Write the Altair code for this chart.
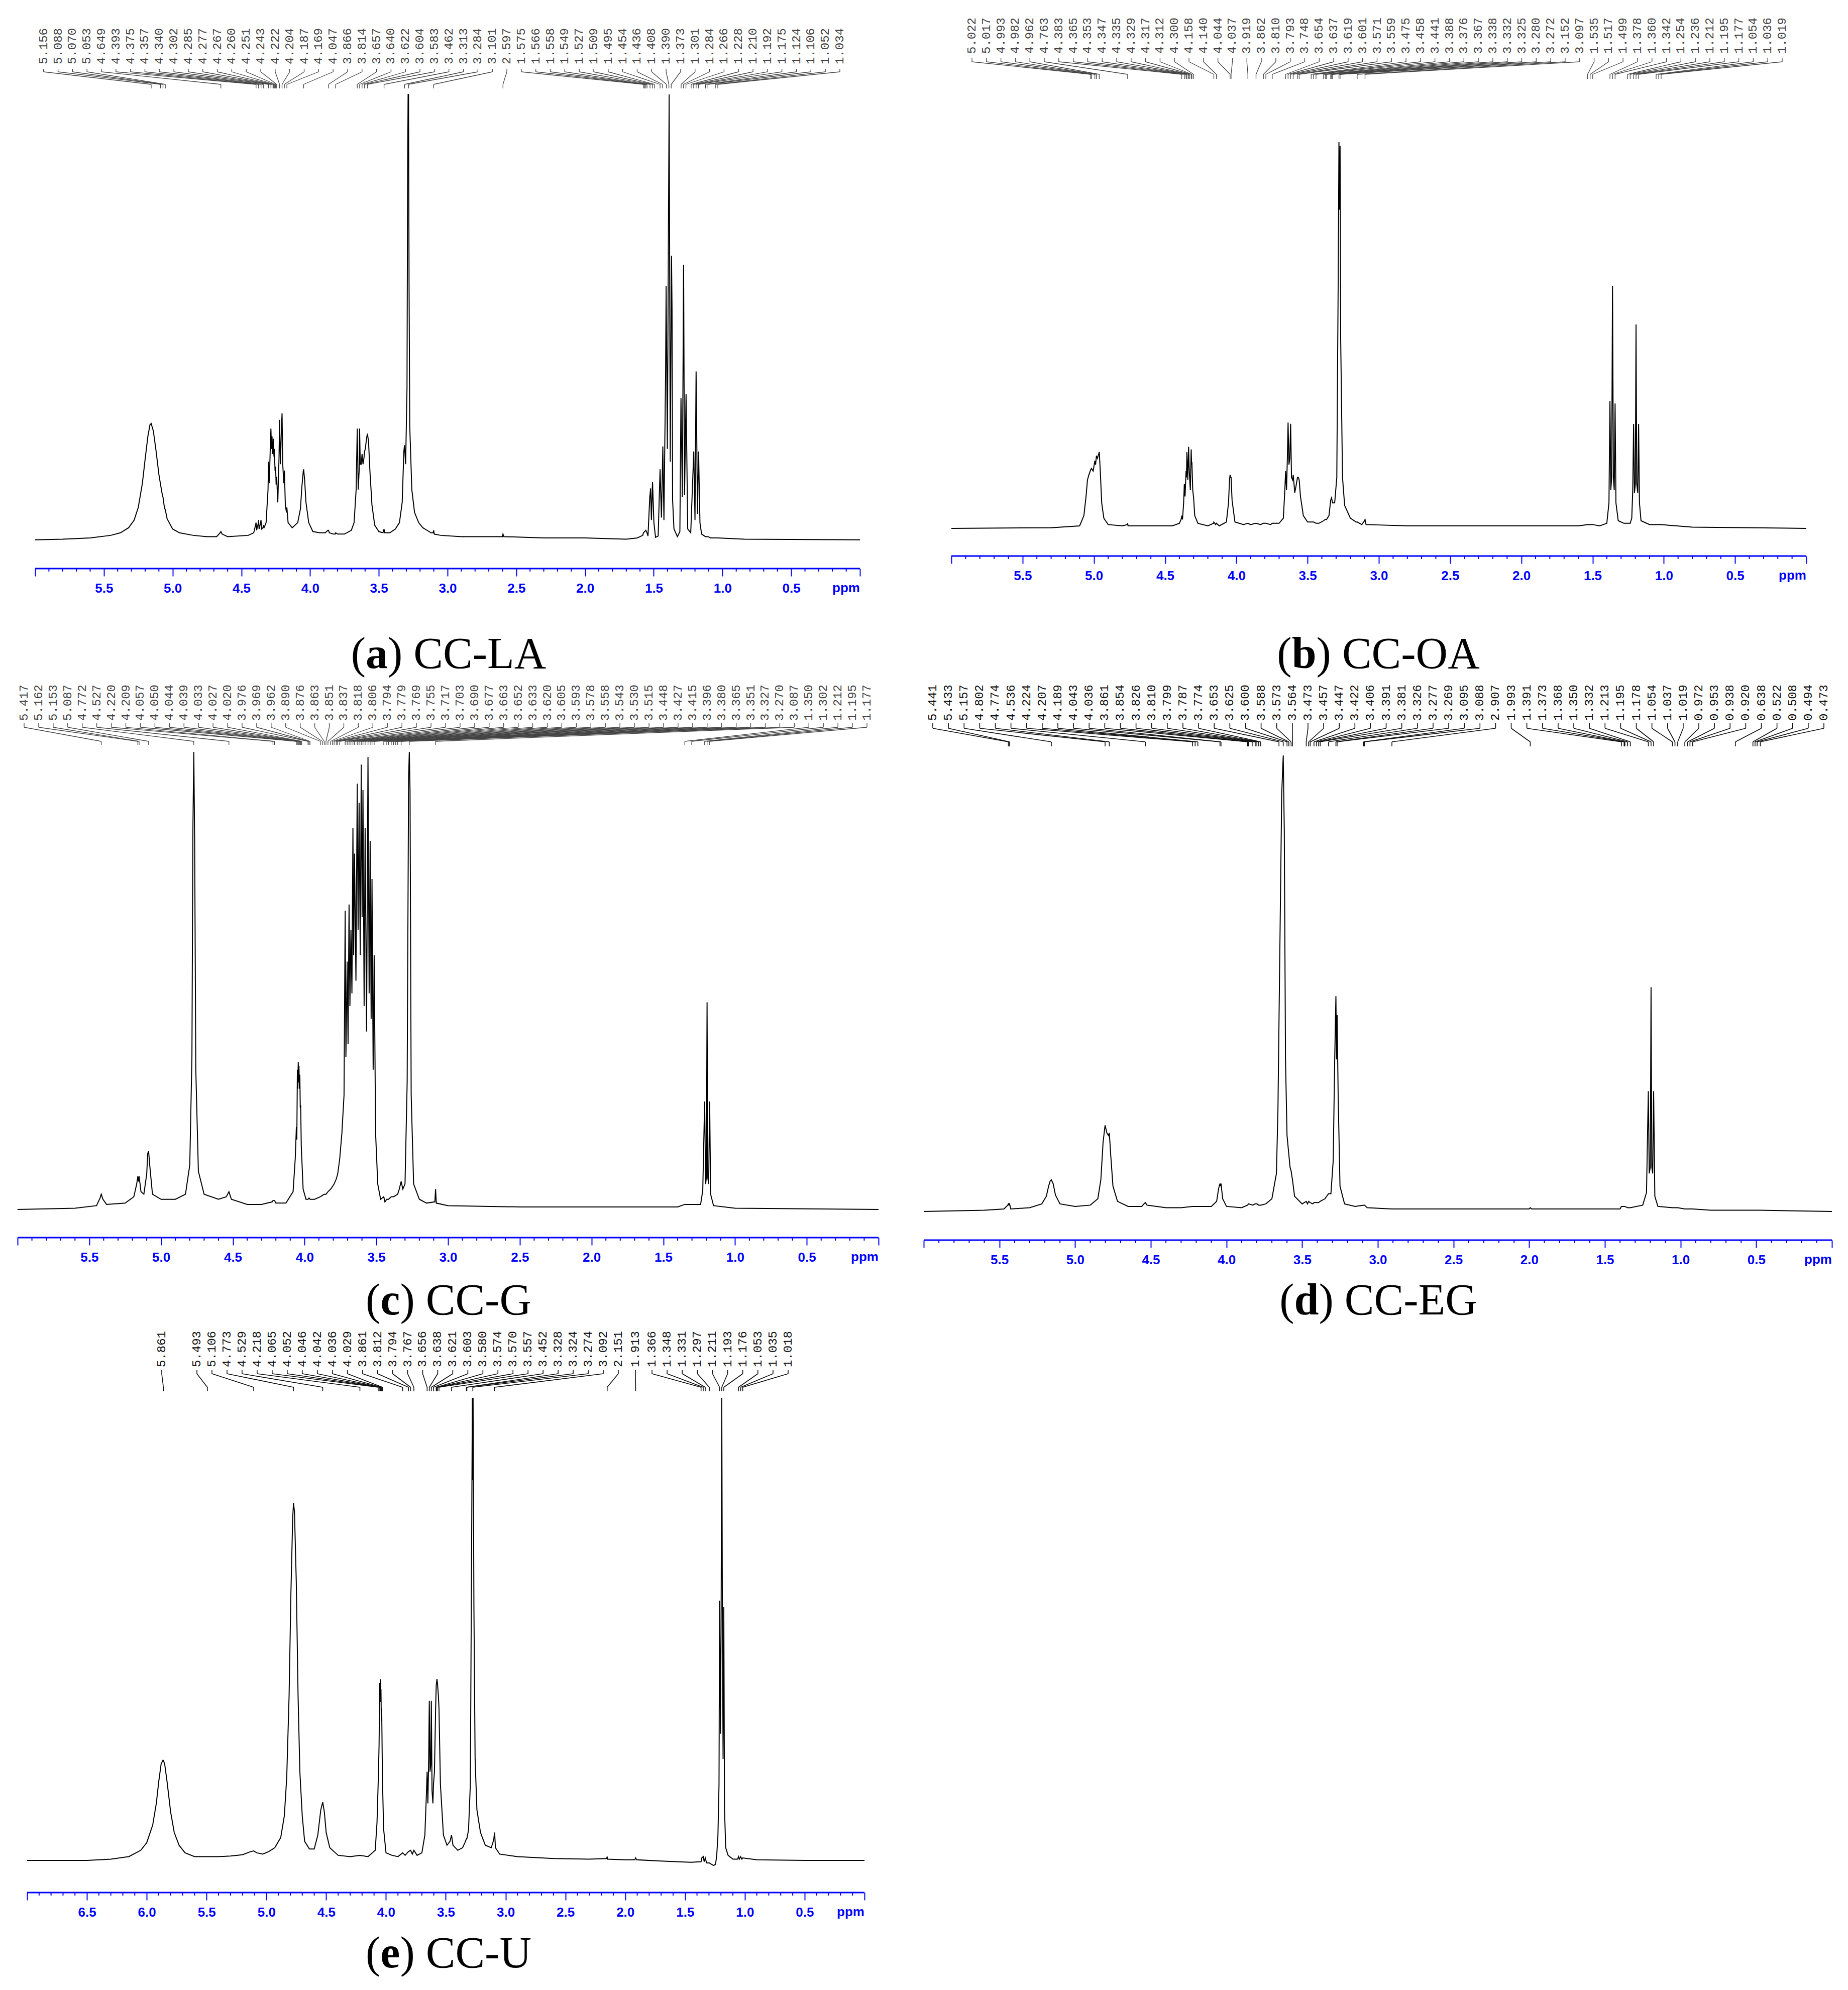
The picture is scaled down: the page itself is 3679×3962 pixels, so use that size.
import altair as alt
import pandas as pd

# ---------------------------------------------------------------- data
# spectrum traces: (chemical shift in ppm, intensity in arbitrary units)
A_TRACE = [(6.00,0.5),(5.80,1),(5.60,2),(5.45,4),(5.38,6),(5.32,10),(5.28,16),(5.25,26),(5.22,45),(5.20,64),(5.18,82),(5.165,91),(5.156,92),(5.14,86),(5.12,70),(5.10,52),(5.088,44),(5.075,36),(5.070,34),(5.060,26),(5.053,24),(5.04,17),(5.00,9),(4.95,6),(4.85,4),(4.75,3),(4.68,3),(4.655,6),(4.649,7),(4.64,5),(4.60,3),(4.45,4),(4.41,6),(4.397,12),(4.393,14),(4.389,8),(4.378,13),(4.375,16),(4.371,9),(4.360,14),(4.357,16),(4.353,9),(4.343,10),(4.340,12),(4.335,10),(4.32,14),(4.306,40),(4.302,62),(4.297,45),(4.289,75),(4.285,88),(4.281,72),(4.277,82),(4.272,68),(4.267,80),(4.263,66),(4.260,72),(4.255,55),(4.251,58),(4.247,44),(4.243,50),(4.235,30),(4.226,65),(4.222,95),(4.216,60),(4.208,90),(4.204,100),(4.199,60),(4.191,45),(4.187,55),(4.180,28),(4.172,22),(4.169,26),(4.160,14),(4.13,10),(4.09,14),(4.07,25),(4.06,42),(4.050,54),(4.047,56),(4.040,48),(4.03,30),(4.01,14),(3.98,7),(3.93,6),(3.89,6),(3.870,8),(3.866,8),(3.860,6),(3.83,5),(3.817,5),(3.814,6),(3.80,5),(3.75,5),(3.70,8),(3.68,14),(3.665,40),(3.657,88),(3.650,40),(3.643,55),(3.640,88),(3.635,60),(3.628,60),(3.622,68),(3.615,60),(3.608,65),(3.604,70),(3.598,72),(3.590,80),(3.583,84),(3.575,78),(3.565,55),(3.55,28),(3.53,12),(3.50,7),(3.47,6),(3.465,8),(3.462,9),(3.458,6),(3.42,6),(3.38,9),(3.35,14),(3.33,30),(3.318,70),(3.313,75),(3.305,60),(3.295,120),(3.290,300),(3.287,351),(3.284,351),(3.280,200),(3.275,90),(3.26,40),(3.24,22),(3.21,14),(3.18,10),(3.15,8),(3.12,6),(3.105,6),(3.101,8),(3.097,5),(3.05,4),(2.90,3),(2.70,3),(2.60,3),(2.597,5),(2.59,3),(2.30,2),(2.00,2),(1.70,1),(1.62,2),(1.580,4),(1.575,6),(1.566,7),(1.558,8),(1.549,6),(1.542,3.5),(1.529,34),(1.523,41),(1.517,16),(1.509,46),(1.499,14),(1.487,2.5),(1.468,3.5),(1.454,56),(1.444,18),(1.434,74),(1.426,16),(1.414,130),(1.410,200),(1.401,72),(1.393,248),(1.388,351),(1.383,168),(1.380,62),(1.371,224),(1.367,182),(1.363,32),(1.353,9),(1.328,3),(1.310,7),(1.302,112),(1.292,34),(1.283,217),(1.276,36),(1.265,115),(1.253,9),(1.231,6),(1.209,70),(1.200,16),(1.192,133),(1.182,21),(1.174,70),(1.164,14),(1.152,5),(1.124,3),(1.106,3),(1.085,2),(1.052,2),(1.034,2),(0.84,1),(0.00,0.5)]

B_TRACE = [(6.00,0),(5.30,0.5),(5.10,2),(5.07,10),(5.055,25),(5.045,38),(5.035,42),(5.022,46),(5.017,47),(5.005,45),(4.993,53),(4.988,50),(4.982,57),(4.975,55),(4.962,60),(4.955,45),(4.945,20),(4.93,8),(4.90,3),(4.80,2),(4.765,3),(4.763,4),(4.76,2),(4.45,2),(4.40,4),(4.388,7),(4.383,10),(4.378,7),(4.370,20),(4.365,35),(4.360,25),(4.353,45),(4.350,40),(4.347,60),(4.341,38),(4.335,64),(4.332,50),(4.329,42),(4.323,30),(4.317,62),(4.314,50),(4.312,52),(4.306,30),(4.300,24),(4.292,10),(4.27,4),(4.20,2),(4.160,4),(4.158,5),(4.145,3),(4.140,4),(4.12,2),(4.07,5),(4.055,20),(4.048,38),(4.044,42),(4.040,40),(4.037,40),(4.030,22),(4.01,5),(3.95,3),(3.919,4),(3.90,3),(3.862,4),(3.83,3),(3.810,4),(3.793,4),(3.76,3),(3.748,4),(3.70,4),(3.67,8),(3.660,30),(3.654,45),(3.648,30),(3.642,55),(3.637,83),(3.631,50),(3.625,55),(3.619,82),(3.613,40),(3.605,38),(3.601,42),(3.590,28),(3.580,34),(3.571,40),(3.565,40),(3.559,38),(3.55,25),(3.53,10),(3.50,5),(3.475,5),(3.458,5),(3.441,4),(3.42,4),(3.388,6),(3.376,7),(3.367,7),(3.35,10),(3.338,22),(3.332,24),(3.325,20),(3.31,20),(3.295,40),(3.285,200),(3.280,303),(3.276,250),(3.272,300),(3.268,150),(3.255,40),(3.24,18),(3.20,8),(3.16,5),(3.152,5),(3.12,3),(3.100,6),(3.097,7),(3.09,3),(2.80,2),(2.00,2),(1.60,2),(1.535,3),(1.517,3),(1.499,3),(1.45,2),(1.40,4),(1.385,20),(1.378,100),(1.372,30),(1.366,40),(1.360,190),(1.354,40),(1.348,30),(1.342,98),(1.336,20),(1.32,6),(1.28,4),(1.254,4),(1.236,4),(1.225,8),(1.218,30),(1.212,82),(1.206,28),(1.200,35),(1.195,160),(1.190,35),(1.183,28),(1.177,82),(1.171,20),(1.16,6),(1.10,3),(1.054,3),(1.036,3),(1.019,3),(0.80,1),(0.00,0)]

C_TRACE = [(6.00,0),(5.60,1),(5.45,3),(5.425,9),(5.417,12),(5.405,8),(5.38,4),(5.25,5),(5.19,10),(5.170,20),(5.162,26),(5.157,22),(5.153,26),(5.140,14),(5.12,12),(5.10,28),(5.093,44),(5.087,46),(5.080,36),(5.06,12),(5.00,8),(4.90,8),(4.83,12),(4.80,35),(4.785,120),(4.778,300),(4.772,360),(4.766,290),(4.758,110),(4.74,30),(4.70,12),(4.60,8),(4.545,10),(4.527,14),(4.51,8),(4.40,4),(4.30,4),(4.225,6),(4.220,7),(4.209,7),(4.20,5),(4.13,5),(4.08,14),(4.065,40),(4.057,65),(4.054,55),(4.050,110),(4.047,95),(4.044,116),(4.041,100),(4.039,113),(4.036,95),(4.033,106),(4.030,80),(4.027,82),(4.023,50),(4.020,42),(4.010,16),(3.99,8),(3.976,8),(3.969,9),(3.962,8),(3.93,8),(3.890,10),(3.876,11),(3.863,12),(3.851,12),(3.837,14),(3.818,16),(3.806,18),(3.794,20),(3.779,24),(3.769,28),(3.755,40),(3.74,60),(3.725,90),(3.717,235),(3.712,120),(3.703,195),(3.697,130),(3.690,240),(3.684,160),(3.677,220),(3.670,170),(3.663,300),(3.658,200),(3.652,280),(3.642,180),(3.633,335),(3.627,220),(3.620,320),(3.612,200),(3.605,350),(3.599,230),(3.593,330),(3.585,160),(3.578,300),(3.568,140),(3.558,356),(3.550,170),(3.543,290),(3.536,150),(3.530,260),(3.522,110),(3.515,200),(3.505,60),(3.49,20),(3.47,8),(3.448,10),(3.44,6),(3.427,8),(3.415,8),(3.396,10),(3.380,10),(3.365,11),(3.351,12),(3.340,16),(3.327,22),(3.315,16),(3.30,20),(3.285,100),(3.275,340),(3.270,360),(3.265,330),(3.257,90),(3.24,20),(3.20,8),(3.15,5),(3.092,6),(3.087,16),(3.082,5),(3.00,3),(2.50,2),(2.00,2),(1.40,2),(1.350,4),(1.302,4),(1.24,4),(1.225,15),(1.212,85),(1.205,20),(1.200,25),(1.195,163),(1.190,25),(1.184,20),(1.177,85),(1.170,12),(1.15,3),(1.00,1),(0.00,0)]

D_TRACE = [(6.00,0),(5.60,1),(5.47,2),(5.445,5),(5.441,6),(5.437,5),(5.433,6),(5.425,2),(5.30,3),(5.22,6),(5.19,12),(5.175,20),(5.165,24),(5.157,25),(5.145,22),(5.13,13),(5.10,6),(5.00,4),(4.90,5),(4.85,10),(4.83,25),(4.815,55),(4.802,68),(4.790,62),(4.780,60),(4.774,62),(4.765,45),(4.75,20),(4.72,8),(4.65,4),(4.56,4),(4.545,6),(4.536,7),(4.525,5),(4.40,3),(4.30,3),(4.224,4),(4.207,4),(4.189,4),(4.10,4),(4.065,8),(4.052,18),(4.043,22),(4.039,20),(4.036,22),(4.025,10),(4.00,4),(3.90,3),(3.861,5),(3.854,6),(3.826,5),(3.810,6),(3.799,6),(3.787,5),(3.774,5),(3.74,6),(3.70,10),(3.67,30),(3.660,80),(3.653,150),(3.645,230),(3.635,330),(3.625,360),(3.618,300),(3.610,120),(3.600,60),(3.588,45),(3.580,35),(3.573,32),(3.564,25),(3.55,12),(3.50,6),(3.473,8),(3.465,6),(3.457,8),(3.447,7),(3.43,6),(3.422,7),(3.406,7),(3.391,7),(3.381,8),(3.35,10),(3.326,14),(3.31,14),(3.295,40),(3.285,120),(3.277,170),(3.273,120),(3.269,155),(3.262,90),(3.25,20),(3.22,6),(3.15,4),(3.095,5),(3.088,5),(3.07,3),(2.907,2),(2.50,2),(2.00,2),(1.993,3),(1.985,2),(1.70,2),(1.40,2),(1.391,4),(1.373,4),(1.368,4),(1.350,3),(1.332,3),(1.25,5),(1.225,15),(1.213,95),(1.207,30),(1.200,35),(1.195,177),(1.190,35),(1.184,30),(1.178,95),(1.170,12),(1.15,4),(1.054,3),(1.037,3),(1.019,3),(0.972,2),(0.953,2),(0.938,2),(0.920,2),(0.80,1),(0.638,1),(0.522,1),(0.473,1),(0.00,0)]

E_TRACE = [(7.00,0),(6.50,0),(6.30,1),(6.15,3),(6.05,8),(6.00,14),(5.95,28),(5.92,45),(5.90,62),(5.88,76),(5.865,79),(5.861,79),(5.85,76),(5.83,62),(5.80,38),(5.77,22),(5.73,12),(5.68,6),(5.60,3),(5.50,3),(5.40,3),(5.30,3.5),(5.20,4.5),(5.13,7),(5.106,7.5),(5.08,6),(5.03,5),(4.98,7),(4.93,10),(4.88,18),(4.85,35),(4.83,65),(4.81,130),(4.795,210),(4.78,270),(4.773,282),(4.765,275),(4.75,220),(4.735,130),(4.72,70),(4.70,35),(4.68,15),(4.64,9),(4.60,9),(4.57,20),(4.545,40),(4.529,46),(4.515,38),(4.50,22),(4.47,10),(4.40,4),(4.30,3),(4.218,4),(4.15,3),(4.09,8),(4.075,30),(4.065,62),(4.058,90),(4.052,140),(4.049,125),(4.046,143),(4.044,128),(4.042,135),(4.039,110),(4.036,120),(4.032,85),(4.029,62),(4.02,25),(4.00,6),(3.95,4),(3.90,3),(3.861,6),(3.840,4),(3.812,7),(3.794,8),(3.780,5),(3.767,8),(3.74,4),(3.70,6),(3.675,20),(3.663,50),(3.656,70),(3.650,45),(3.643,80),(3.638,126),(3.632,70),(3.626,75),(3.621,126),(3.615,55),(3.608,45),(3.603,60),(3.595,70),(3.585,120),(3.580,138),(3.574,143),(3.570,140),(3.562,130),(3.557,120),(3.545,60),(3.52,20),(3.49,12),(3.465,15),(3.452,20),(3.440,12),(3.40,8),(3.36,10),(3.34,14),(3.328,17),(3.324,17),(3.31,24),(3.295,60),(3.284,250),(3.278,365),(3.276,300),(3.272,365),(3.265,200),(3.255,80),(3.24,40),(3.21,22),(3.17,12),(3.12,10),(3.100,16),(3.092,22),(3.085,10),(3.05,5),(2.90,3),(2.60,1.5),(2.30,1),(2.155,1.5),(2.151,3),(2.147,1),(2.00,0.5),(1.92,0.5),(1.913,2),(1.905,0.5),(1.70,-0.5),(1.45,-1.5),(1.366,-1),(1.360,2),(1.348,3),(1.340,-1),(1.331,2),(1.320,-2),(1.297,-2),(1.280,-3),(1.26,-4),(1.245,-3),(1.235,4),(1.225,20),(1.216,60),(1.211,205),(1.204,100),(1.198,200),(1.193,365),(1.188,200),(1.182,80),(1.176,200),(1.170,40),(1.16,10),(1.14,4),(1.10,1),(1.060,1),(1.053,3),(1.046,1),(1.035,3),(1.025,1),(1.018,2),(0.90,0.5),(0.50,0),(0.00,0)]

# peak-pick labels
A_LABELS = ["5.156","5.088","5.070","5.053","4.649","4.393","4.375","4.357","4.340","4.302","4.285","4.277","4.267","4.260","4.251","4.243","4.222","4.204","4.187","4.169","4.047","3.866","3.814","3.657","3.640","3.622","3.604","3.583","3.462","3.313","3.284","3.101","2.597","1.575","1.566","1.558","1.549","1.527","1.509","1.495","1.454","1.436","1.408","1.390","1.373","1.301","1.284","1.266","1.228","1.210","1.192","1.175","1.124","1.106","1.052","1.034"]
B_LABELS = ["5.022","5.017","4.993","4.982","4.962","4.763","4.383","4.365","4.353","4.347","4.335","4.329","4.317","4.312","4.300","4.158","4.140","4.044","4.037","3.919","3.862","3.810","3.793","3.748","3.654","3.637","3.619","3.601","3.571","3.559","3.475","3.458","3.441","3.388","3.376","3.367","3.338","3.332","3.325","3.280","3.272","3.152","3.097","1.535","1.517","1.499","1.378","1.360","1.342","1.254","1.236","1.212","1.195","1.177","1.054","1.036","1.019"]
C_LABELS = ["5.417","5.162","5.153","5.087","4.772","4.527","4.220","4.209","4.057","4.050","4.044","4.039","4.033","4.027","4.020","3.976","3.969","3.962","3.890","3.876","3.863","3.851","3.837","3.818","3.806","3.794","3.779","3.769","3.755","3.717","3.703","3.690","3.677","3.663","3.652","3.633","3.620","3.605","3.593","3.578","3.558","3.543","3.530","3.515","3.448","3.427","3.415","3.396","3.380","3.365","3.351","3.327","3.270","3.087","1.350","1.302","1.212","1.195","1.177"]
D_LABELS = ["5.441","5.433","5.157","4.802","4.774","4.536","4.224","4.207","4.189","4.043","4.036","3.861","3.854","3.826","3.810","3.799","3.787","3.774","3.653","3.625","3.600","3.588","3.573","3.564","3.473","3.457","3.447","3.422","3.406","3.391","3.381","3.326","3.277","3.269","3.095","3.088","2.907","1.993","1.391","1.373","1.368","1.350","1.332","1.213","1.195","1.178","1.054","1.037","1.019","0.972","0.953","0.938","0.920","0.638","0.522","0.508","0.494","0.473"]
E_LABELS_1 = ["5.861"]
E_LABELS_2 = ["5.493","5.106","4.773","4.529","4.218","4.065","4.052","4.046","4.042","4.036","4.029","3.861","3.812","3.794","3.767","3.656","3.638","3.621","3.603","3.580","3.574","3.570","3.557","3.452","3.328","3.324","3.274","3.092","2.151"]
E_LABELS_3 = ["1.913"]
E_LABELS_4 = ["1.366","1.348","1.331","1.297","1.211","1.193","1.176","1.053","1.035","1.018"]

CAPTIONS = [("a", "CC-LA"), ("b", "CC-OA"), ("c", "CC-G"), ("d", "CC-EG"), ("e", "CC-U")]

# ---------------------------------------------------------------- layout (page pixels)
BLUE = "#0000ff"
COL_L = [8, 1800]
COL_W = [1760, 1860]
ROW_T = [8, 1282, 2619]
GEOM = {
    "a": dict(col=0, PT=ROW_T[0], H=1124, P=6, Xhi=70, X0=1712, base=1076, top=188, tb=128, c=(137, 143, 168, 176), cx=893, cb=1330),
    "b": dict(col=1, PT=ROW_T[0], H=1099, P=6, Xhi=1894, X0=3596, base=1052, top=283, tb=107, c=(115, 123, 148, 157), cx=2744, cb=1330),
    "c": dict(col=0, PT=ROW_T[1], H=1182, P=6, Xhi=35, X0=1749, base=2408, top=1497, tb=1435, c=(1440, 1448, 1476, 1483), cx=893, cb=2617),
    "d": dict(col=1, PT=ROW_T[1], H=1187, P=6, Xhi=1839, X0=3647, base=2412, top=1504, tb=1435, c=(1440, 1450, 1477, 1486), cx=2744, cb=2617),
    "e": dict(col=0, PT=ROW_T[2], H=1149, P=7, Xhi=54, X0=1721, base=3704, top=2783, tb=2722, c=(2728, 2735, 2762, 2770), cx=893, cb=3917),
}
LABEL_GROUPS = {
    "a": [(A_LABELS, 86.7, 1672)],
    "b": [(B_LABELS, 1935, 3548)],
    "c": [(C_LABELS, 48, 1726)],
    "d": [(D_LABELS, 1857, 3631)],
    "e": [(E_LABELS_1, 322, 322), (E_LABELS_2, 392, 1231), (E_LABELS_3, 1265, 1265), (E_LABELS_4, 1298, 1569)],
}
TRACES = {"a": A_TRACE, "b": B_TRACE, "c": C_TRACE, "d": D_TRACE, "e": E_TRACE}
LAB_COLOR = {"a": "#444444", "b": "#444444", "c": "#444444", "d": "#111111", "e": "#111111"}

# Times-compatible advance widths (em) for caption placement
EM = {"(": 0.333, ")": 0.333, " ": 0.25, "C": 0.667, "-": 0.333, "L": 0.611, "A": 0.722,
      "O": 0.722, "G": 0.722, "E": 0.611, "U": 0.722}
EM_BOLD = {"a": 0.5, "b": 0.556, "c": 0.444, "d": 0.556, "e": 0.444}
CAP_FS = 88
TICK_FS = 26


def make_panel(key, letter, name):
    g = GEOM[key]
    PL = COL_L[g["col"]]
    W = COL_W[g["col"]]
    PT, H, P = g["PT"], g["H"], g["P"]
    k = (g["X0"] - g["Xhi"]) / P
    L = P + (g["Xhi"] - PL) / k
    R = -((PL + W) - g["X0"]) / k
    xs = alt.Scale(domain=[R, L], reverse=True, nice=False, zero=False)

    trace = TRACES[key]
    pb = g["base"] - PT
    pt = g["top"] - PT
    hmax = max(v for _, v in trace)
    s = (pb - pt) / hmax
    lo, hi = -(H - pb) / s, pb / s

    spec = pd.DataFrame({"ppm": [p for p, _ in trace], "inten": [v for _, v in trace]})
    spec["idx"] = range(len(spec))

    major = [round(i * 0.5, 1) for i in range(0, 2 * P + 1)]
    minor = [round(i * 0.1, 1) for i in range(0, 10 * P + 1) if i % 5]
    axis = alt.Axis(values=major,
                    labelExpr=f"(datum.value > {P - 0.01} || datum.value < 0.01) ? '' : format(datum.value, '.1f')",
                    domain=False, grid=False, ticks=True, tickSize=15, tickWidth=2, tickColor=BLUE,
                    labelColor=BLUE, labelFont="Liberation Sans", labelFontWeight="bold", labelFontSize=TICK_FS,
                    labelPadding=11, title=None, labelOverlap=False, labelBound=False, labelFlush=False)

    def X(field):
        return alt.X(field, scale=xs, axis=axis)

    line = alt.Chart(spec).mark_line(color="black", strokeWidth=2).encode(
        x=X("ppm:Q"),
        y=alt.Y("inten:Q", scale=alt.Scale(domain=[lo, hi], nice=False, zero=False), axis=None),
        order="idx:Q")

    minor_rules = alt.Chart(pd.DataFrame({"ppm": minor})).mark_rule(color=BLUE, strokeWidth=2).encode(
        x=X("ppm:Q"), y=alt.value(H), y2=alt.value(H + 6))
    axis_line = alt.Chart(pd.DataFrame({"ppm": [float(P)], "b": [0.0]})).mark_rule(color=BLUE, strokeWidth=3).encode(
        x=X("ppm:Q"), x2="b:Q", y=alt.value(H))
    ppm_txt = alt.Chart(pd.DataFrame({"ppm": [0.0], "t": ["ppm"]})).mark_text(
        align="right", baseline="alphabetic", font="Liberation Sans", fontWeight="bold",
        fontSize=TICK_FS, color=BLUE).encode(x=X("ppm:Q"), y=alt.value(H + 47), text="t:N")

    rows = []
    for labs, x1, x2 in LABEL_GROUPS[key]:
        n = len(labs)
        for i, t in enumerate(labs):
            px = x1 + (x2 - x1) * i / (n - 1) if n > 1 else x1
            rows.append({"ppm": P - (px - g["Xhi"]) / k, "pk": float(t), "txt": t})
    lab = pd.DataFrame(rows)
    lab2 = pd.DataFrame({"ppm": lab["pk"], "txt": lab["txt"]})
    c0, c1, c2, c3 = [v - PT for v in g["c"]]
    col = LAB_COLOR[key]
    sw = 1.3 if key in ("a", "b", "c") else 1.6
    r1 = alt.Chart(lab).mark_rule(color=col, strokeWidth=sw).encode(
        x=X("ppm:Q"), y=alt.value(c0), y2=alt.value(c1))
    r2 = alt.Chart(lab).mark_rule(color=col, strokeWidth=sw).encode(
        x=X("ppm:Q"), x2="pk:Q", y=alt.value(c1), y2=alt.value(c2))
    r3 = alt.Chart(lab2).mark_rule(color=col, strokeWidth=sw).encode(
        x=X("ppm:Q"), y=alt.value(c2), y2=alt.value(c3))
    txt = alt.Chart(lab).mark_text(angle=270, align="left", baseline="middle", font="Liberation Mono",
                                   fontSize=24, color=col).encode(
        x=X("ppm:Q"), y=alt.value(g["tb"] - PT), text="txt:N")

    # caption "(x) NAME" with bold letter
    p1, p2, p3 = "(", letter, ") " + name
    w1 = EM["("] * CAP_FS
    w2 = EM_BOLD[letter] * CAP_FS
    w3 = sum(EM[ch] for ch in p3) * CAP_FS
    start = g["cx"] - PL - (w1 + w2 + w3) / 2
    cy = g["cb"] - PT
    caps = []
    for part, xo, wt in [(p1, start, "normal"), (p2, start + w1, "bold"), (p3, start + w1 + w2, "normal")]:
        caps.append(alt.Chart(pd.DataFrame({"t": [part]})).mark_text(
            align="left", baseline="alphabetic", font="Liberation Serif", fontSize=CAP_FS,
            fontWeight=wt, color="black").encode(x=alt.value(xo), y=alt.value(cy), text="t:N"))

    return alt.layer(line, minor_rules, axis_line, ppm_txt, r1, r2, r3, txt, *caps).properties(width=W, height=H)


panels = [make_panel(key, key, name) for key, name in CAPTIONS]

chart = alt.concat(*panels, columns=2, spacing={"row": 150, "column": 32},
                   bounds="flush", align="each", padding=0, background="white"
                   ).configure_view(stroke=None)

chart.save("out.html", embed_options={"renderer": "svg", "actions": False})
